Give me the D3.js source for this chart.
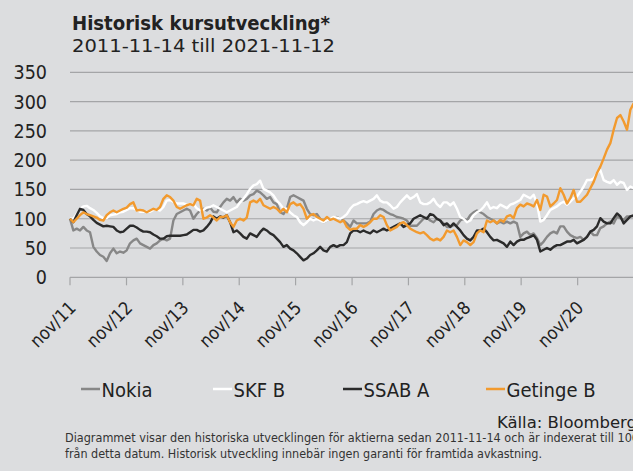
<!DOCTYPE html>
<html>
<head>
<meta charset="utf-8">
<script src="https://cdnjs.cloudflare.com/ajax/libs/d3/7.8.5/d3.min.js"></script>
<style>
  body { margin: 0; background: #dcdddf; }
  svg { display: block; font-family: "DejaVu Sans Condensed", "DejaVu Sans", sans-serif; font-stretch: condensed; }
</style>
</head>
<body>
<div id="chart"></div>
<script>
// Indexed to 100 on 2011-11-14, one value roughly every three weeks
const startDate = new Date(2011, 10, 14);
const endDate = new Date(2021, 10, 12);

const nokia = [
  100, 80, 83, 80, 86, 80, 77, 52, 44, 38, 35, 28, 41, 49, 41, 44, 42, 46, 58, 63, 66, 58, 55, 52, 49, 55, 58, 63, 66, 63, 66, 97, 108, 111, 114, 117, 114, 100, 108, 114, 117, 114, 119,
  112, 111, 120, 128, 134, 131, 137, 128, 134, 131, 134, 140, 142, 148, 145, 140, 134, 137, 128, 125, 111, 108, 117, 137, 140, 137, 134, 131, 117, 108, 106, 108, 100, 94, 97, 100, 100, 103, 100, 97, 92, 86, 97,
  92, 92, 92, 92, 95, 108, 114, 117, 115, 111, 108, 106, 103, 102, 100, 97, 88, 88, 88, 94, 100, 102, 97, 94, 100, 97, 92, 86, 86, 89, 89, 97, 100, 97, 106, 111, 114, 111, 108, 103, 100, 97,
  92, 95, 92, 95, 92, 95, 92, 69, 75, 78, 72, 75, 67, 55, 61, 69, 75, 78, 75, 87, 87, 78, 72, 69, 67, 69, 64, 69, 78, 72, 72, 84, 87, 92, 95, 92, 104, 101, 98, 104, 104, 104
];
const skf = [
  100, 100, 108, 117, 121, 122, 118, 115, 110, 104, 101, 101, 106, 107, 108, 111, 112, 115, 118, 118, 115, 112, 112, 112, 112, 115, 116, 114, 120, 131, 132, 129, 126, 126, 126, 124, 125, 125, 118, 114, 115, 119, 120,
  123, 120, 117, 114, 111, 114, 117, 120, 128, 134, 142, 151, 157, 159, 165, 151, 148, 145, 140, 131, 125, 117, 117, 111, 106, 103, 94, 89, 94, 100, 97, 100, 97, 94, 97, 100, 103, 102, 100, 103, 108, 117, 123,
  125, 128, 130, 128, 131, 134, 140, 131, 128, 128, 123, 117, 120, 128, 134, 140, 134, 137, 142, 128, 125, 125, 128, 134, 125, 120, 128, 128, 123, 128, 117, 103, 100, 94, 97, 106, 111, 114, 120, 128, 117, 120,
  118, 124, 121, 118, 124, 126, 129, 132, 141, 138, 135, 141, 126, 95, 98, 106, 115, 118, 121, 126, 129, 124, 129, 135, 138, 146, 155, 166, 166, 169, 178, 183, 166, 163, 161, 166, 158, 163, 161, 149, 155, 152
];
const ssab = [
  100, 94, 106, 117, 115, 108, 104, 98, 93, 90, 87, 88, 87, 86, 80, 77, 78, 83, 88, 88, 85, 81, 78, 78, 77, 73, 70, 66, 66, 70, 71, 71, 71, 71, 72, 73, 77, 81, 81, 78, 80, 86, 93,
  104, 100, 104, 102, 106, 94, 77, 80, 75, 69, 66, 75, 72, 69, 77, 83, 80, 75, 72, 66, 60, 52, 55, 49, 46, 41, 35, 29, 32, 38, 41, 46, 52, 46, 44, 52, 55, 52, 55, 55, 60, 75, 80,
  80, 77, 80, 77, 75, 80, 77, 80, 83, 80, 83, 86, 89, 92, 86, 89, 92, 100, 103, 106, 103, 100, 108, 106, 100, 97, 89, 92, 86, 92, 86, 80, 72, 66, 63, 69, 80, 80, 83, 77, 69, 63,
  64, 61, 58, 52, 61, 55, 61, 64, 64, 67, 69, 72, 64, 44, 47, 50, 47, 52, 55, 55, 58, 61, 61, 64, 58, 61, 64, 69, 78, 81, 87, 101, 95, 92, 92, 101, 109, 104, 92, 98, 104, 106
];
const getinge = [
  100, 94, 100, 106, 111, 108, 106, 104, 102, 98, 97, 106, 111, 114, 111, 114, 117, 119, 125, 128, 114, 115, 114, 111, 114, 117, 115, 120, 134, 140, 137, 131, 120, 117, 120, 123, 125, 123, 134, 131, 100, 102, 106,
  102, 97, 103, 103, 106, 94, 86, 97, 100, 97, 102, 128, 131, 128, 134, 123, 120, 117, 120, 117, 111, 117, 111, 125, 128, 123, 125, 117, 100, 106, 108, 103, 100, 97, 103, 98, 100, 97, 94, 97, 86, 81, 83,
  83, 89, 86, 89, 94, 100, 100, 106, 103, 89, 80, 83, 86, 92, 94, 89, 83, 80, 77, 75, 77, 72, 66, 63, 66, 63, 69, 80, 77, 80, 69, 55, 63, 60, 55, 60, 75, 80, 77, 97, 94, 97,
  92, 98, 95, 104, 106, 101, 118, 124, 121, 126, 124, 121, 132, 115, 141, 138, 121, 126, 132, 152, 141, 126, 135, 149, 129, 129, 135, 141, 152, 163, 178, 189, 203, 218, 229, 252, 272, 277, 266, 252, 286, 297
];

const seriesNames = ["Nokia", "SKF B", "SSAB A", "Getinge B"];
const seriesColors = ["#878787", "#ffffff", "#2b2b2b", "#f29a2e"];
const seriesValues = [nokia, skf, ssab, getinge];

const yTicks = [0, 50, 100, 150, 200, 250, 300, 350];
const tickYears = [2011, 2012, 2013, 2014, 2015, 2016, 2017, 2018, 2019, 2020];
const tickLabels = ["nov/11", "nov/12", "nov/13", "nov/14", "nov/15", "nov/16", "nov/17", "nov/18", "nov/19", "nov/20"];

const footnote = [
  "Diagrammet visar den historiska utvecklingen för aktierna sedan 2011-11-14 och är indexerat till 100",
  "från detta datum. Historisk utveckling innebär ingen garanti för framtida avkastning."
];

const width = 633, height = 471;
const plot = {left: 70, right: 633.7, top: 72.3, bottom: 277.3};

const svg = d3.select("#chart").append("svg")
  .attr("width", width)
  .attr("height", height);

svg.append("rect").attr("width", width).attr("height", height).attr("fill", "#dcdddf");

const n = nokia.length;
const dates = d3.range(n).map(i => new Date(+startDate + i * (endDate - startDate) / (n - 1)));

const x = d3.scaleTime().domain([startDate, endDate]).range([plot.left, plot.right]);
const y = d3.scaleLinear().domain([0, 350]).range([plot.bottom, plot.top]);

// title
svg.append("text")
  .attr("x", 72).attr("y", 30)
  .attr("font-size", 19).attr("font-weight", "bold").attr("fill", "#222")
  .attr("textLength", 258).attr("lengthAdjust", "spacingAndGlyphs")
  .text("Historisk kursutveckling*");
svg.append("text")
  .attr("x", 72).attr("y", 52)
  .attr("font-size", 18).attr("fill", "#222")
  .attr("textLength", 263).attr("lengthAdjust", "spacingAndGlyphs")
  .text("2011-11-14 till 2021-11-12");

// grid lines + y labels
svg.append("g")
  .selectAll("line")
  .data(yTicks)
  .join("line")
  .attr("x1", plot.left).attr("x2", width)
  .attr("y1", d => y(d)).attr("y2", d => y(d))
  .attr("stroke", "#a4a5a7").attr("stroke-width", 1.2);

svg.append("g")
  .selectAll("text")
  .data(yTicks)
  .join("text")
  .attr("x", 47).attr("y", d => y(d))
  .attr("dy", "0.36em")
  .attr("text-anchor", "end")
  .attr("font-size", 19.5).attr("fill", "#222")
  .text(d => d);

// x ticks
const tickDates = tickYears.map(yr => new Date(yr, 10, 14));
svg.append("g")
  .selectAll("line")
  .data(tickDates)
  .join("line")
  .attr("x1", d => x(d)).attr("x2", d => x(d))
  .attr("y1", plot.bottom).attr("y2", plot.bottom + 8)
  .attr("stroke", "#a4a5a7").attr("stroke-width", 1.2);

svg.append("g")
  .selectAll("text")
  .data(tickDates)
  .join("text")
  .attr("transform", d => `translate(${x(d) + 7}, 309) rotate(-45)`)
  .attr("text-anchor", "end")
  .attr("font-size", 18).attr("fill", "#222")
  .text((d, i) => tickLabels[i]);

// lines
const line = d3.line()
  .x((d, i) => x(dates[i]))
  .y(d => y(d));

svg.append("g")
  .selectAll("path")
  .data(seriesValues)
  .join("path")
  .attr("d", line)
  .attr("fill", "none")
  .attr("stroke", (d, i) => seriesColors[i])
  .attr("stroke-width", 2.4)
  .attr("stroke-linejoin", "round");

// legend
const legendX = [81, 213, 343, 486];
const legend = svg.append("g")
  .selectAll("g")
  .data(seriesNames)
  .join("g")
  .attr("transform", (d, i) => `translate(${legendX[i]}, 389)`);
legend.append("line")
  .attr("x1", 0).attr("x2", 19)
  .attr("stroke", (d, i) => seriesColors[i])
  .attr("stroke-width", 2.5);
legend.append("text")
  .attr("x", 20.5).attr("y", 8.3)
  .attr("font-size", 20).attr("fill", "#222")
  .text(d => d);

// source + footnote
svg.append("text")
  .attr("x", 497).attr("y", 428)
  .attr("font-size", 16).attr("fill", "#222")
  .attr("textLength", 140).attr("lengthAdjust", "spacingAndGlyphs")
  .text("Källa: Bloomberg");

const footLengths = [574, 477];
svg.append("g")
  .selectAll("text")
  .data(footnote)
  .join("text")
  .attr("x", 65).attr("y", (d, i) => 442.3 + i * 16)
  .attr("font-size", 12.5).attr("fill", "#333")
  .attr("textLength", (d, i) => footLengths[i]).attr("lengthAdjust", "spacingAndGlyphs")
  .text(d => d);
</script>
</body>
</html>
